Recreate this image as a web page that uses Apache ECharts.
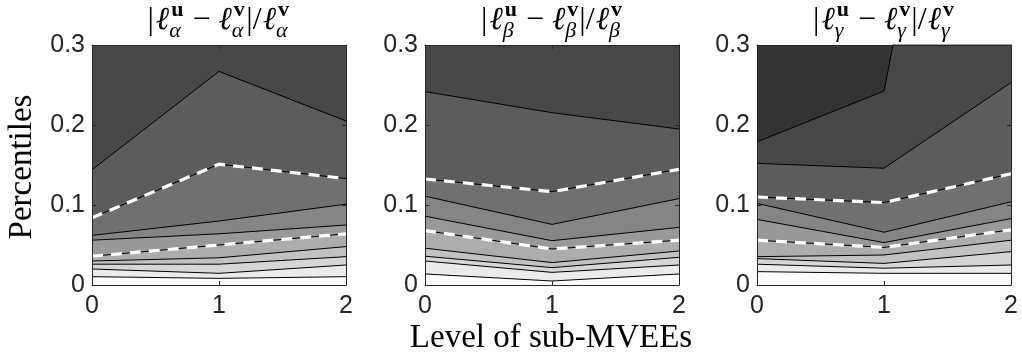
<!DOCTYPE html>
<html>
<head>
<meta charset="utf-8">
<script src="https://cdn.jsdelivr.net/npm/echarts@6/dist/echarts.min.js"></script>
<style>
  html, body { margin: 0; padding: 0; background: #fff; }
  #main { width: 1022px; height: 354px; }
</style>
</head>
<body>
<div id="main"></div>
<script>
// level of sub-MVEEs on the x axis
var xLevels = [0, 1, 2];

// percentile contour lines, lowest first, one value per level
var alphaLines = [
  [0.0104, 0.0083, 0.0104],
  [0.020, 0.0146, 0.025],
  [0.026, 0.026, 0.0354],
  [0.030, 0.034, 0.048],
  [0.036, 0.050, 0.064],
  [0.056, 0.064, 0.075],
  [0.062, 0.080, 0.101],
  [0.084, 0.151, 0.133],
  [0.144, 0.267, 0.205]
];
var betaLines = [
  [0.0138, 0.005, 0.0138],
  [0.030, 0.0158, 0.025],
  [0.036, 0.0217, 0.0346],
  [0.046, 0.028, 0.0425],
  [0.068, 0.045, 0.056],
  [0.086, 0.0554, 0.072],
  [0.111, 0.0758, 0.108],
  [0.1325, 0.1167, 0.1446],
  [0.2417, 0.2154, 0.195]
];
var gammaLines = [
  [0.0167, 0.0146, 0.0146],
  [0.026, 0.021, 0.025],
  [0.033, 0.027, 0.0417],
  [0.0354, 0.0375, 0.056],
  [0.056, 0.047, 0.069],
  [0.082, 0.053, 0.083],
  [0.102, 0.066, 0.104],
  [0.110, 0.103, 0.139],
  [0.152, 0.146, 0.253],
  [0.179, 0.2425, 1.05]
];
// which lines get the white dashed overlay
var dashedIdx = [4, 7];
// band fill, from below the lowest line up to above the highest
var bandColors = ['#ffffff', '#ebebeb', '#d6d6d6', '#c2c2c2', '#adadad', '#999999',
                  '#858585', '#707070', '#5c5c5c', '#474747', '#333333'];

var panels = [
  { lines: alphaLines, sym: 'α', left: 92 },
  { lines: betaLines, sym: 'β', left: 425 },
  { lines: gammaLines, sym: 'γ', left: 757 }
];
var plotTop = 45, plotW = 254, plotH = 240;
var axisColor = '#262626';
var serif = '"Liberation Serif", "DejaVu Serif", serif';

var myChart = echarts.init(document.getElementById('main'));

var grids = [], xAxes = [], yAxes = [], series = [];

panels.forEach(function (p, i) {
  grids.push({
    left: p.left, top: plotTop, width: plotW, height: plotH,
    show: true, backgroundColor: bandColors[p.lines.length], borderWidth: 0
  });
  var line = { show: true, onZero: false, lineStyle: { color: axisColor, width: 1 } };
  var tick = { show: true, inside: true, length: 4, lineStyle: { color: axisColor } };
  xAxes.push({
    gridIndex: i, type: 'value', min: 0, max: 2, interval: 1, z: 10,
    axisLine: line, axisTick: tick, splitLine: { show: false },
    axisLabel: { fontFamily: 'Liberation Sans', fontSize: 25, color: axisColor, margin: 9 }
  });
  xAxes.push({
    gridIndex: i, type: 'value', position: 'top', min: 0, max: 2, interval: 1, z: 10,
    axisLine: line, axisTick: tick, splitLine: { show: false }, axisLabel: { show: false }
  });
  yAxes.push({
    gridIndex: i, type: 'value', min: 0, max: 0.3, interval: 0.1, z: 10,
    axisLine: line, axisTick: tick, splitLine: { show: false },
    axisLabel: { fontFamily: 'Liberation Sans', fontSize: 25, color: axisColor, margin: 7 }
  });
  yAxes.push({
    gridIndex: i, type: 'value', position: 'right', min: 0, max: 0.3, interval: 0.1, z: 10,
    axisLine: line, axisTick: tick, splitLine: { show: false }, axisLabel: { show: false }
  });

  // highest line first, each filling down to zero with the band below it
  for (var k = p.lines.length - 1; k >= 0; k--) {
    series.push({
      type: 'line', xAxisIndex: 2 * i, yAxisIndex: 2 * i,
      data: xLevels.map(function (x, j) { return [x, p.lines[k][j]]; }),
      symbol: 'none', clip: true, silent: true,
      lineStyle: { color: '#000', width: 1 },
      areaStyle: { color: bandColors[k], opacity: 1 }
    });
  }
  dashedIdx.forEach(function (k) {
    series.push({
      type: 'line', xAxisIndex: 2 * i, yAxisIndex: 2 * i, z: 3,
      data: xLevels.map(function (x, j) { return [x, p.lines[k][j]]; }),
      symbol: 'none', clip: true, silent: true,
      lineStyle: { color: '#fff', width: 3.2, type: [11, 8] }
    });
  });
});

// titles like |l^u_a - l^v_a| / l^v_a, laid out piece by piece
var ctx = document.createElement('canvas').getContext('2d');
function wid(str, font) { ctx.font = font; return ctx.measureText(str).width; }

function mathTitle(cx, sym) {
  var big = 32, small = 22, midY = 21;
  var fRom = big + 'px ' + serif, fIt = 'italic ' + big + 'px ' + serif;
  var fSup = 'bold ' + small + 'px ' + serif, fSub = 'italic ' + small + 'px ' + serif;
  var pieces = [
    { t: '|', f: fRom }, { gap: 2 }, { t: 'ℓ', f: fIt }, { sup: 'u', sub: sym },
    { gap: 8 }, { t: '−', f: fRom }, { gap: 8 }, { t: 'ℓ', f: fIt }, { sup: 'v', sub: sym },
    { t: '|', f: fRom }, { t: '/', f: fRom }, { gap: 1 }, { t: 'ℓ', f: fIt }, { sup: 'v', sub: sym }
  ];
  var total = 0;
  pieces.forEach(function (pc) {
    if (pc.gap != null) pc.w = pc.gap;
    else if (pc.t != null) pc.w = wid(pc.t, pc.f);
    else pc.w = Math.max(wid(pc.sup, fSup), wid(pc.sub, fSub)) + 3;
    total += pc.w;
  });
  var x = cx - total / 2, out = [];
  pieces.forEach(function (pc) {
    if (pc.gap != null) {
      // just space
    } else if (pc.t != null) {
      out.push({ type: 'text', x: x, y: midY,
        style: { text: pc.t, font: pc.f, fill: '#000', align: 'left', verticalAlign: 'middle' } });
    } else {
      out.push({ type: 'text', x: x + 2, y: midY - 11,
        style: { text: pc.sup, font: fSup, fill: '#000', align: 'left', verticalAlign: 'middle' } });
      out.push({ type: 'text', x: x, y: midY + 10,
        style: { text: pc.sub, font: fSub, fill: '#000', align: 'left', verticalAlign: 'middle' } });
    }
    x += pc.w;
  });
  return out;
}

var graphics = [];
panels.forEach(function (p) {
  graphics = graphics.concat(mathTitle(p.left + plotW / 2, p.sym));
});
graphics.push({
  type: 'text', x: 551, y: 338,
  style: { text: 'Level of sub-MVEEs', font: '33px ' + serif, fill: '#000', align: 'center', verticalAlign: 'middle' }
});
graphics.push({
  type: 'text', x: 22, y: 167, rotation: Math.PI / 2,
  style: { text: 'Percentiles', font: '33px ' + serif, fill: '#000', align: 'center', verticalAlign: 'middle' }
});

myChart.setOption({
  animation: false,
  grid: grids,
  xAxis: xAxes,
  yAxis: yAxes,
  series: series,
  graphic: graphics
});
</script>
</body>
</html>
